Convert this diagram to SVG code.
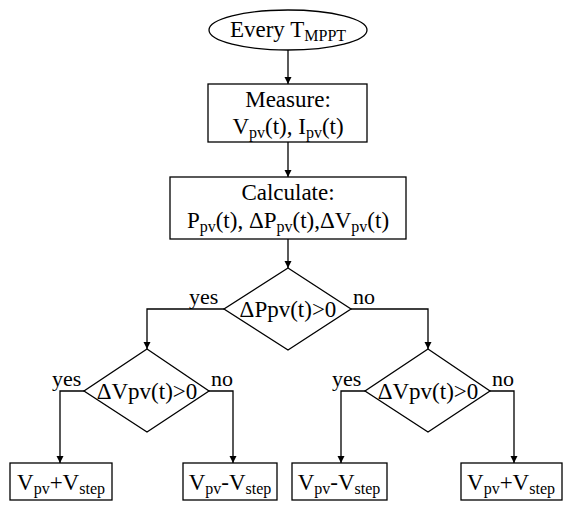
<svg xmlns="http://www.w3.org/2000/svg" width="564" height="508" viewBox="0 0 564 508" font-family="'Liberation Serif', 'Times New Roman', serif">
<style>
text{font-family:'Liberation Serif','Times New Roman',serif;font-size:23px;fill:#000;text-anchor:middle}
.s{font-size:16px}
.lbl{text-anchor:start;font-size:22px}
.shape{fill:#fff;stroke:#000;stroke-width:1.3}
.c{fill:none;stroke:#000;stroke-width:1.3}
</style>
<defs>
<marker id="ah" viewBox="0 0 10 10" refX="10" refY="5" markerWidth="7" markerHeight="9" markerUnits="userSpaceOnUse" orient="auto">
<path d="M0,0 L10,5 L0,10 z" fill="#000"/>
</marker>
</defs>
<rect width="564" height="508" fill="#fff"/>
<g id="connectors">
<path class="c" d="M288,50 V84" marker-end="url(#ah)"/>
<path class="c" d="M288,142 V177" marker-end="url(#ah)"/>
<path class="c" d="M288,239 V268" marker-end="url(#ah)"/>
<path class="c" d="M224,309 H147 V349" marker-end="url(#ah)"/>
<path class="c" d="M351,309 H428 V349" marker-end="url(#ah)"/>
<path class="c" d="M84,391 H60 V463" marker-end="url(#ah)"/>
<path class="c" d="M209,391 H233 V463" marker-end="url(#ah)"/>
<path class="c" d="M365,391 H341 V463" marker-end="url(#ah)"/>
<path class="c" d="M490,391 H514 V463" marker-end="url(#ah)"/>
<text class="lbl" x="189" y="304">yes</text>
<text class="lbl" x="353" y="304">no</text>
<text class="lbl" x="52" y="386">yes</text>
<text class="lbl" x="211" y="386">no</text>
<text class="lbl" x="332" y="386">yes</text>
<text class="lbl" x="492" y="386">no</text>
</g>
<g id="start">
<ellipse class="shape" cx="288" cy="30" rx="79" ry="20"/>
<text x="288" y="37">Every T<tspan class="s" dy="4">MPPT</tspan></text>
</g>
<g id="measure">
<rect class="shape" x="208" y="84" width="159" height="58"/>
<text x="288" y="107">Measure:</text>
<text x="288" y="134">V<tspan class="s" dy="4">pv</tspan><tspan dy="-4">(t), I</tspan><tspan class="s" dy="4">pv</tspan><tspan dy="-4">(t)</tspan></text>
</g>
<g id="calculate">
<rect class="shape" x="170" y="177" width="236" height="62"/>
<text x="288" y="200">Calculate:</text>
<text x="288" y="228">P<tspan class="s" dy="4">pv</tspan><tspan dy="-4">(t), ΔP</tspan><tspan class="s" dy="4">pv</tspan><tspan dy="-4">(t),ΔV</tspan><tspan class="s" dy="4">pv</tspan><tspan dy="-4">(t)</tspan></text>
</g>
<g id="decision-dp">
<path class="shape" d="M288,268 L351,309 L288,350 L224,309 z"/>
<text x="288" y="317">ΔPpv(t)&gt;0</text>
</g>
<g id="decision-dv-left">
<path class="shape" d="M147,349 L209,391 L147,432 L84,391 z"/>
<text x="147" y="399">ΔVpv(t)&gt;0</text>
</g>
<g id="decision-dv-right">
<path class="shape" d="M428,349 L490,391 L428,432 L365,391 z"/>
<text x="428" y="399">ΔVpv(t)&gt;0</text>
</g>
<g id="out1">
<rect class="shape" x="10" y="463" width="102" height="37"/>
<text x="61" y="490">V<tspan class="s" dy="4">pv</tspan><tspan dy="-4">+V</tspan><tspan class="s" dy="4">step</tspan></text>
</g>
<g id="out2">
<rect class="shape" x="183" y="463" width="94" height="37"/>
<text x="230" y="490">V<tspan class="s" dy="4">pv</tspan><tspan dy="-4">-V</tspan><tspan class="s" dy="4">step</tspan></text>
</g>
<g id="out3">
<rect class="shape" x="292" y="463" width="95" height="37"/>
<text x="339" y="490">V<tspan class="s" dy="4">pv</tspan><tspan dy="-4">-V</tspan><tspan class="s" dy="4">step</tspan></text>
</g>
<g id="out4">
<rect class="shape" x="461" y="463" width="101" height="37"/>
<text x="511" y="490">V<tspan class="s" dy="4">pv</tspan><tspan dy="-4">+V</tspan><tspan class="s" dy="4">step</tspan></text>
</g>
</svg>
